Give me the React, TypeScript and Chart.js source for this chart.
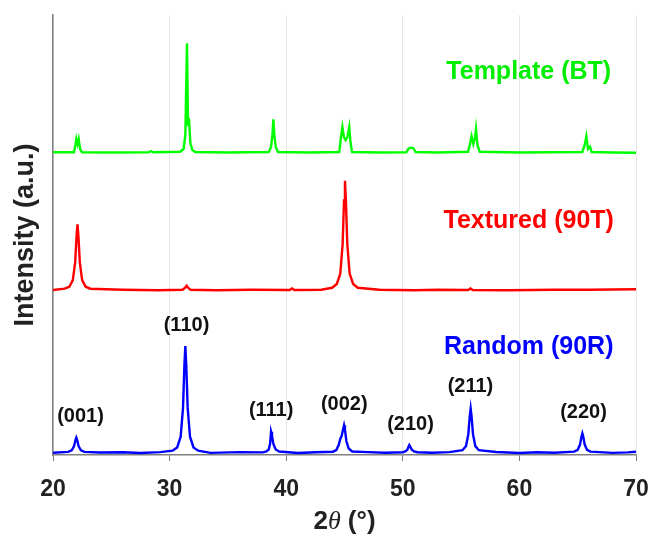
import React, { useEffect, useRef } from "react";
import { Chart, registerables } from "chart.js";

Chart.register(...registerables);

// 2θ ticks
const xTicks = [20, 30, 40, 50, 60, 70];

// Random (90R) pattern (blue)
const randomTheta = [
  20, 21.3, 21.6, 21.8, 21.92, 22.0, 22.08, 22.2, 22.4, 22.7,
  24.0, 26.0, 27.5, 29.2, 30.25, 30.65, 30.95, 31.15, 31.27, 31.35, 31.43, 31.55, 31.75, 32.05, 32.45,
  33.5, 36.0, 38.0, 38.3, 38.5, 38.62, 38.7, 38.78, 38.9, 39.1, 39.4,
  41.0, 42.5, 44.0, 44.3, 44.5, 44.65, 44.75, 44.85, 44.96, 45.04, 45.16, 45.36, 45.66,
  47.0, 48.5, 50.0, 50.25, 50.4, 50.5, 50.56, 50.64, 50.76, 50.96, 51.26,
  52.5, 54.0, 55.12, 55.42, 55.62, 55.74, 55.82, 55.9, 56.02, 56.22, 56.52,
  58.0, 60.0, 61.5, 63.0, 64.7, 65.0, 65.2, 65.32, 65.4, 65.48, 65.6, 65.8, 66.1,
  68.0, 69.3, 70,
];
const randomIntensity = [
  2.3, 3.1, 4.6, 8.6, 14.6, 17.3, 14.6, 8.6, 4.6, 3.1,
  2.5, 2.8, 2.0, 2.9, 4.3, 7.6, 18.3, 47.1, 89.8, 109, 89.8, 47.1, 18.3, 7.6, 4.3,
  2.1, 2.9, 2.6, 3.5, 5.5, 11.1, 23.3, 19.5, 11.1, 5.5, 3.5,
  2.0, 2.8, 3.3, 5.0, 10, 16.5, 19, 24, 29.7, 25, 14, 6.5, 3.5,
  2.9, 2.2, 2.8, 3.8, 5.5, 8.5, 10, 8.5, 5.5, 3.5, 2.8,
  2.2, 2.9, 4.8, 8.9, 20.8, 38.3, 46.3, 38.3, 20.8, 8.9, 4.8,
  3.0, 2.0, 2.8, 2.2, 3.4, 5.2, 10.4, 18.2, 21.7, 18.2, 10.4, 5.2, 3.4,
  2.1, 2.6, 3.2,
];

// Textured (90T) pattern (red)
const texturedTheta = [
  20, 21.0, 21.4, 21.7, 21.9, 22.02, 22.1, 22.18, 22.3, 22.5, 22.8, 23.2,
  26.0, 29.0, 31.1, 31.3, 31.46, 31.6, 31.8, 34.0, 37.0, 40.3, 40.5, 40.7,
  43.0, 43.94, 44.34, 44.64, 44.84, 44.96, 45.04, 45.12, 45.24, 45.44, 45.74, 46.14,
  48.0, 51.0, 53.0, 55.6, 55.8, 56.0, 59.0, 63.0, 66.0, 70,
];
const texturedIntensity = [
  165, 166.3, 168.3, 174.9, 192.6, 218.9, 230.7, 218.9, 192.6, 174.9, 168.3, 166.3,
  165.3, 164.8, 165.3, 167, 169.3, 167, 165.3, 164.8, 165.3, 165, 166.5, 165,
  165.2, 167.2, 171, 181.4, 210.9, 254.6, 274.3, 254.6, 210.9, 181.4, 171, 167.2,
  165.2, 164.8, 165.2, 165, 166.5, 165, 164.8, 165.3, 165.2, 165.8,
];

// Template (BT) pattern (green)
const templateTheta = [
  20, 21.8, 21.92, 22.0, 22.1, 22.2, 22.32, 22.5, 25.0, 28.2, 28.4, 28.6,
  30.9, 31.2, 31.35, 31.49, 31.58, 31.66, 31.78, 31.95, 32.2, 35.0,
  38.5, 38.7, 38.82, 38.9, 38.98, 39.1, 39.3, 42.0,
  44.55, 44.7, 44.82, 44.95, 45.1, 45.25, 45.41, 45.52, 45.65, 48.0,
  50.3, 50.5, 50.7, 50.9, 51.1, 53.0,
  55.6, 55.78, 55.9, 56.05, 56.2, 56.28, 56.4, 56.6, 60.0,
  65.4, 65.6, 65.74, 65.88, 66.05, 66.2, 68.0, 70,
];
const templateIntensity = [
  302.7, 302.7, 310, 316, 311, 316, 306, 302.7, 302.5, 302.7, 304, 302.7,
  303.2, 306, 320, 411.7, 330, 336.7, 312, 305, 303, 302.5,
  303, 308, 320, 335.7, 320, 308, 303, 302.5,
  303, 318, 328, 318, 315, 318, 328, 312, 303, 302.5,
  302.7, 306.5, 307.3, 307, 303, 302.5,
  303.2, 312, 319, 311, 318, 326, 310, 303.2, 302.5,
  303, 310, 318.7, 306, 308.3, 303, 302.5, 302.3,
];

// Peak (hkl) annotations for the random pattern
const hklLabels = ["(001)", "(110)", "(111)", "(002)", "(210)", "(211)", "(220)"];
const hklTheta = [22.36, 31.45, 38.71, 44.98, 50.66, 55.8, 65.5];
const hklIntensity = [38.3, 129.2, 44.2, 51, 31, 68.3, 42.5];

// Series names
const seriesNames = ["Template (BT)", "Textured (90T)", "Random (90R)"];
const seriesColors = ["#00ee00", "#ff0000", "#0000ff"];
const seriesLabelTheta = [60.8, 60.8, 60.8];
const seriesLabelIntensity = [383, 234.3, 107.5];

const zip = (xs: number[], ys: number[]) => xs.map((x, i) => ({ x, y: ys[i] }));

const FONT = '"Liberation Sans", Arial, sans-serif';
const TEXT = "#222222";

const annotationPlugin = {
  id: "annotations",
  afterDatasetsDraw(chart: any) {
    const { ctx, scales } = chart;
    const xs = scales.x;
    const ys = scales.y;
    ctx.save();
    ctx.textAlign = "center";
    ctx.textBaseline = "middle";
    ctx.font = `bold 20px ${FONT}`;
    ctx.fillStyle = "#111111";
    hklLabels.forEach((t, i) => {
      ctx.fillText(t, xs.getPixelForValue(hklTheta[i]), ys.getPixelForValue(hklIntensity[i]));
    });
    ctx.font = `bold 25px ${FONT}`;
    seriesNames.forEach((t, i) => {
      ctx.fillStyle = seriesColors[i];
      ctx.fillText(t, xs.getPixelForValue(seriesLabelTheta[i]), ys.getPixelForValue(seriesLabelIntensity[i]));
    });
    ctx.restore();
  },
  afterDraw(chart: any) {
    const { ctx, chartArea } = chart;
    ctx.save();
    ctx.fillStyle = TEXT;
    ctx.save();
    ctx.translate(26, (chartArea.top + chartArea.bottom) / 2);
    ctx.rotate(-Math.PI / 2);
    ctx.textAlign = "center";
    ctx.textBaseline = "middle";
    ctx.font = `bold 27px ${FONT}`;
    ctx.fillText("Intensity (a.u.)", 0, 0);
    ctx.restore();
    const parts = [
      { t: "2", f: `bold 26px ${FONT}` },
      { t: "θ", f: `italic 26px "Liberation Serif", "Times New Roman", serif` },
      { t: " (°)", f: `bold 26px ${FONT}` },
    ];
    let total = 0;
    parts.forEach((p) => {
      ctx.font = p.f;
      total += ctx.measureText(p.t).width;
    });
    let x = (chartArea.left + chartArea.right) / 2 - total / 2;
    const y = 522;
    ctx.textAlign = "left";
    ctx.textBaseline = "middle";
    parts.forEach((p) => {
      ctx.font = p.f;
      ctx.fillText(p.t, x, y);
      x += ctx.measureText(p.t).width;
    });
    ctx.restore();
  },
};

export default function App() {
  const canvasRef = useRef<HTMLCanvasElement | null>(null);

  useEffect(() => {
    if (!canvasRef.current) return;
    const chart = new Chart(canvasRef.current, {
      type: "line",
      data: {
        datasets: [
          { label: seriesNames[0], data: zip(templateTheta, templateIntensity), borderColor: "#00ff00", borderWidth: 2.4, pointRadius: 0, tension: 0 },
          { label: seriesNames[1], data: zip(texturedTheta, texturedIntensity), borderColor: "#ff0000", borderWidth: 2.4, pointRadius: 0, tension: 0 },
          { label: seriesNames[2], data: zip(randomTheta, randomIntensity), borderColor: "#0000ff", borderWidth: 2.4, pointRadius: 0, tension: 0 },
        ],
      },
      options: {
        animation: false,
        responsive: false,
        maintainAspectRatio: false,
        layout: { padding: { top: 15, right: 14, left: 0, bottom: 0 } },
        plugins: { legend: { display: false }, tooltip: { enabled: false } },
        scales: {
          x: {
            type: "linear",
            min: xTicks[0],
            max: xTicks[xTicks.length - 1],
            afterBuildTicks: (scale: any) => {
              scale.ticks = xTicks.map((v) => ({ value: v }));
            },
            afterFit: (scale: any) => {
              scale.height = 80;
              scale.paddingLeft = 0;
              scale.paddingRight = 0;
            },
            grid: { color: "#e6e6e6", lineWidth: 1, tickColor: "#777777", tickLength: 6, drawTicks: true },
            border: { display: true, color: "#808080", width: 1.5 },
            ticks: { color: TEXT, font: { family: FONT, size: 23, weight: "bold" }, padding: 15, maxRotation: 0 },
          },
          y: {
            type: "linear",
            min: 0,
            max: 440,
            afterFit: (scale: any) => {
              scale.width = 53;
              scale.paddingTop = 0;
              scale.paddingBottom = 0;
            },
            grid: { display: false },
            border: { display: true, color: "#808080", width: 1.5 },
            ticks: { display: false },
          },
        },
      },
      plugins: [annotationPlugin],
    } as any);
    return () => chart.destroy();
  }, []);

  return (
    <div style={{ position: "fixed", left: 0, top: 0, width: 650, height: 535, background: "#fff" }}>
      <canvas ref={canvasRef} width={650} height={535} style={{ width: 650, height: 535 }} />
    </div>
  );
}
